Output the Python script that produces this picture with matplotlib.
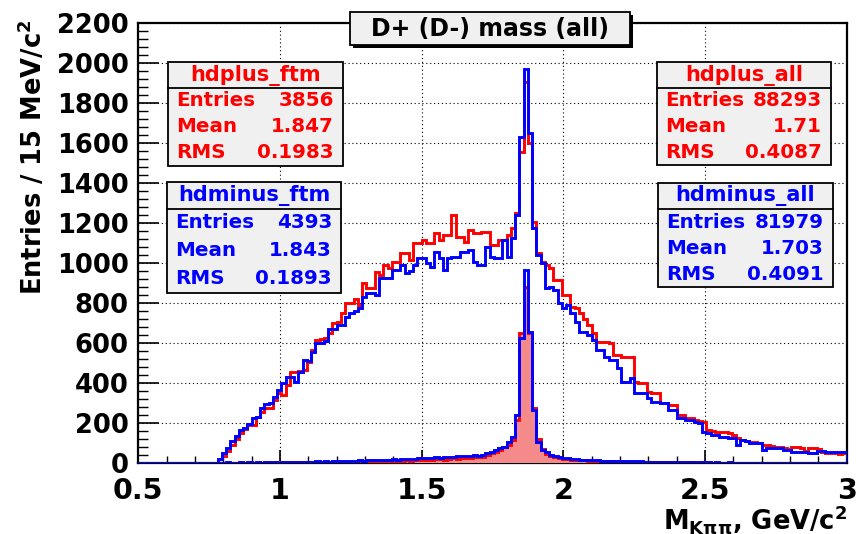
import numpy as np
import matplotlib
matplotlib.use("Agg")
import matplotlib.pyplot as plt
from matplotlib.patches import Rectangle
from matplotlib.lines import Line2D
from matplotlib.ticker import MultipleLocator, FuncFormatter

plt.rcParams['font.family'] = ['DejaVu Sans']
plt.rcParams['font.weight'] = 'bold'
plt.rcParams['mathtext.fontset'] = 'dejavusans'
plt.rcParams['mathtext.default'] = 'bf'

# ---- histogram contents: 167 bins of 15 MeV/c^2 starting at 0.495 GeV/c^2 ----
bin_width = 0.015
first_edge = 0.495

hdplus_all = [
    0, 0, 0, 0, 0, 0, 0, 0, 0, 0,
    0, 0, 0, 0, 0, 0, 0, 0, 0, 20,
    35, 60, 90, 120, 150, 170, 190, 192, 230, 258,
    275, 278, 317, 350, 341, 391, 455, 458, 462, 466,
    508, 566, 615, 620, 625, 650, 700, 708, 750, 800,
    800, 820, 792, 900, 875, 875, 958, 942, 992, 975,
    1008, 1008, 1050, 1050, 1017, 1100, 1100, 1117, 1100, 1100,
    1150, 1117, 1142, 1142, 1242, 1133, 1133, 1108, 1167, 1150,
    1150, 1158, 1158, 1092, 1092, 1117, 1117, 1140, 1175, 1250,
    1558, 1905, 1600, 1208, 1050, 1008, 992, 975, 917, 917,
    842, 842, 783, 775, 750, 720, 690, 650, 608, 608,
    608, 600, 542, 542, 533, 533, 533, 408, 400, 400,
    358, 350, 350, 300, 300, 292, 292, 242, 242, 225,
    225, 215, 210, 208, 167, 160, 158, 158, 155, 150,
    142, 125, 117, 110, 108, 106, 100, 92, 90, 85,
    83, 83, 75, 73, 83, 80, 78, 60, 75, 75,
    72, 55, 52, 50, 52, 48, 50,
]

hdminus_all = [
    0, 0, 0, 0, 0, 0, 0, 0, 0, 0,
    0, 0, 0, 0, 0, 0, 0, 0, 0, 20,
    50, 75, 110, 135, 165, 175, 197, 225, 230, 275,
    296, 300, 333, 366, 400, 430, 430, 408, 458, 516,
    513, 555, 600, 600, 610, 670, 670, 690, 690, 733,
    750, 760, 775, 833, 850, 850, 840, 925, 925, 925,
    967, 967, 992, 950, 960, 992, 1025, 1025, 1000, 983,
    1058, 1025, 967, 1025, 1033, 1033, 1058, 1058, 1066, 1008,
    992, 992, 1083, 1033, 1025, 1025, 1117, 1033, 1125, 1242,
    1630, 1972, 1650, 1175, 1042, 1000, 875, 883, 867, 800,
    775, 792, 750, 708, 658, 658, 642, 617, 567, 567,
    533, 517, 517, 475, 408, 408, 425, 350, 350, 350,
    325, 308, 308, 300, 300, 267, 267, 225, 225, 217,
    217, 205, 200, 158, 150, 142, 140, 133, 133, 125,
    125, 92, 117, 110, 100, 100, 100, 67, 75, 75,
    75, 75, 67, 67, 58, 58, 58, 58, 50, 50,
    62, 62, 58, 58, 58, 58, 58,
]

hdplus_ftm = [
    0, 0, 0, 0, 0, 0, 0, 0, 0, 0,
    0, 0, 0, 0, 0, 0, 0, 0, 0, 2,
    0, 1, 3, 0, 2, 1, 0, 3, 2, 1,
    2, 3, 1, 4, 2, 3, 5, 2, 4, 3,
    5, 3, 4, 6, 4, 5, 7, 5, 6, 8,
    6, 7, 9, 7, 8, 10, 9, 11, 10, 12,
    11, 13, 12, 14, 13, 15, 16, 14, 18, 17,
    19, 20, 18, 22, 24, 23, 26, 28, 27, 30,
    30, 33, 40, 50, 55, 67, 80, 92, 117, 217,
    650, 880, 650, 275, 120, 70, 48, 35, 30, 25,
    22, 20, 18, 16, 15, 14, 12, 13, 11, 10,
    10, 9, 9, 8, 8, 7, 8, 7, 6, 6,
    6, 5, 6, 5, 5, 4, 5, 4, 4, 3,
    4, 3, 3, 4, 3, 3, 2, 3, 3, 2,
    2, 3, 2, 2, 2, 1, 2, 2, 1, 2,
    1, 1, 2, 1, 1, 1, 0, 1, 1, 1,
    1, 0, 1, 1, 0, 1, 0,
]

hdminus_ftm = [
    0, 0, 0, 0, 0, 0, 0, 0, 0, 0,
    0, 0, 0, 0, 0, 0, 0, 0, 0, 3,
    2, 4, 1, 3, 5, 2, 4, 3, 6, 3,
    5, 4, 7, 3, 6, 5, 8, 4, 7, 6,
    8, 6, 9, 7, 10, 8, 11, 9, 12, 10,
    13, 11, 14, 12, 15, 16, 14, 18, 15, 17,
    19, 18, 21, 20, 23, 22, 25, 24, 27, 26,
    29, 28, 31, 33, 32, 35, 36, 34, 38, 40,
    38, 42, 50, 58, 67, 75, 83, 108, 133, 241,
    625, 966, 658, 267, 108, 67, 55, 42, 38, 30,
    25, 24, 20, 20, 18, 17, 17, 15, 14, 13,
    12, 13, 11, 12, 10, 11, 9, 10, 9, 8,
    8, 7, 8, 7, 6, 7, 6, 5, 6, 5,
    5, 4, 5, 4, 4, 3, 4, 3, 3, 4,
    3, 3, 2, 3, 2, 3, 2, 2, 2, 1,
    2, 2, 1, 2, 1, 1, 2, 1, 1, 1,
    1, 1, 0, 1, 1, 0, 1,
]

# statistics boxes: (name, entries, mean, rms)
stats_plus_ftm = ("hdplus_ftm", "3856", "1.847", "0.1983")
stats_minus_ftm = ("hdminus_ftm", "4393", "1.843", "0.1893")
stats_plus_all = ("hdplus_all", "88293", "1.71", "0.4087")
stats_minus_all = ("hdminus_all", "81979", "1.703", "0.4091")

title = "D+ (D-) mass (all)"
x_title = r"M$_{K\pi\pi}$, GeV/c$^{2}$"
y_title = r"Entries / 15 MeV/c$^{2}$"

RED = "#ff0000"
BLUE = "#0000ff"

n_bins = len(hdplus_all)
edges = first_edge + bin_width * np.arange(n_bins + 1)

W, H = 856, 534
fig = plt.figure(figsize=(W / 100, H / 100), dpi=100)

# frame in pixels
L, R, T, B = 138.3, 846.7, 23.3, 463.3
ax = fig.add_axes([L / W, 1 - B / H, (R - L) / W, (B - T) / H])

ax.stairs(hdplus_all, edges, color=RED, lw=2.1, zorder=3)
ax.stairs(hdminus_all, edges, color=BLUE, lw=2.1, zorder=4)
ax.stairs(hdplus_ftm, edges, fill=True, color="#f58a8a", lw=0, zorder=5)
ax.stairs(hdplus_ftm, edges, color=RED, lw=2.1, zorder=6)
ax.stairs(hdminus_ftm, edges, color=BLUE, lw=2.1, zorder=7)

ax.set_xlim(0.5, 3.0)
ax.set_ylim(0, 2200)

ax.xaxis.set_major_locator(MultipleLocator(0.5))
ax.xaxis.set_minor_locator(MultipleLocator(0.1))
ax.yaxis.set_major_locator(MultipleLocator(200))
ax.yaxis.set_minor_locator(MultipleLocator(40))
ax.xaxis.set_major_formatter(FuncFormatter(lambda v, p: f"{v:g}"))

ax.tick_params(axis="x", which="major", direction="in", length=9.5, width=1.2,
               labelsize=20.5, pad=10)
ax.tick_params(axis="x", which="minor", direction="in", length=5, width=1.0)
ax.tick_params(axis="y", which="major", direction="in", length=15, width=1.2,
               labelsize=18.5, pad=7)
ax.tick_params(axis="y", which="minor", direction="in", length=7.5, width=1.0)
for lab in ax.get_xticklabels() + ax.get_yticklabels():
    lab.set_fontweight("bold")

ax.grid(True, which="major", color="black", lw=0.8, ls=(0, (1, 2.5)), zorder=1)
for s in ax.spines.values():
    s.set_linewidth(1.6)

# axis titles
fig.text(33 / W, 1 - 19 / H, y_title, rotation=90, ha="center", va="top",
         fontsize=18.5, fontweight="bold")
fig.text(847 / W, 1 - 529 / H, x_title, ha="right", va="baseline",
         fontsize=18.5, fontweight="bold")


def box(x0, y0, x1, y1, z=10, lw=1.3, face="#f0f0f0"):
    r = Rectangle((x0 / W, 1 - y1 / H), (x1 - x0) / W, (y1 - y0) / H,
                  transform=fig.transFigure, facecolor=face, edgecolor="black",
                  lw=lw, zorder=z)
    fig.add_artist(r)


def stats_box(x0, y0, x1, y1, ysep, stats, color):
    name, entries, mean, rms = stats
    box(x0, y0, x1, y1)
    fig.add_artist(Line2D([x0 / W, x1 / W], [1 - ysep / H, 1 - ysep / H],
                          transform=fig.transFigure, color="black", lw=1.3, zorder=11))
    fig.text((x0 + x1) / 2 / W, 1 - (y0 + ysep) / 2 / H, name, color=color,
             ha="center", va="center", fontsize=15, fontweight="bold", zorder=12)
    rows = [("Entries", entries), ("Mean", mean), ("RMS", rms)]
    step = (y1 - ysep) / 3.0
    for k, (lab, val) in enumerate(rows):
        yc = ysep + step * (k + 0.5)
        fig.text((x0 + 8) / W, 1 - yc / H, lab, color=color, ha="left",
                 va="center", fontsize=14.3, fontweight="bold", zorder=12)
        fig.text((x1 - 9) / W, 1 - yc / H, val, color=color, ha="right",
                 va="center", fontsize=14.3, fontweight="bold", zorder=12)


stats_box(168, 62, 343, 166, 88, stats_plus_ftm, RED)
stats_box(167, 182, 341, 293, 209, stats_minus_ftm, BLUE)
stats_box(657, 62, 831, 165, 88, stats_plus_all, RED)
stats_box(658, 183, 833, 287, 209, stats_minus_all, BLUE)

# title box with drop shadow
box(353, 15, 633, 48, z=10, lw=0, face="black")
box(350, 12, 630, 45, z=11, lw=1.3)
fig.text(490 / W, 1 - 29 / H, title, ha="center", va="center", fontsize=17,
         fontweight="bold", zorder=12)

fig.savefig("out.png", dpi=100)
